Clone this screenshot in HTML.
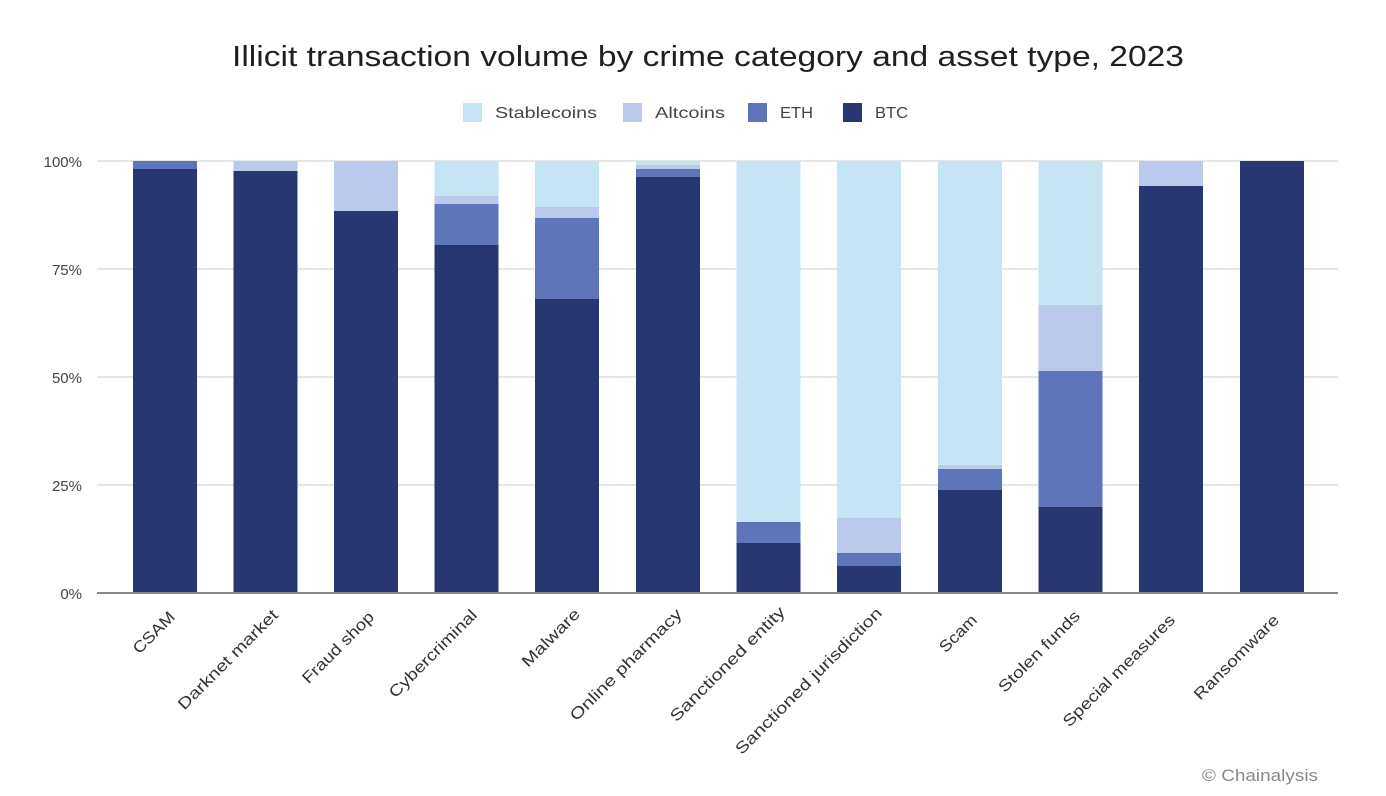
<!DOCTYPE html>
<html><head><meta charset="utf-8"><style>
html,body{margin:0;padding:0;background:#fff;}
svg{display:block;}
</style></head><body>
<svg width="1386" height="796" viewBox="0 0 1386 796" xmlns="http://www.w3.org/2000/svg" font-family="Liberation Sans, sans-serif">
<rect width="1386" height="796" fill="#fff"/>
<text x="232" y="66" font-size="29" fill="#1f1f1f" textLength="952" lengthAdjust="spacingAndGlyphs">Illicit transaction volume by crime category and asset type, 2023</text>

<g font-size="16" fill="#444">
<rect x="463" y="103" width="19" height="19" fill="#c5e5f5"/>
<text x="495" y="118" textLength="102" lengthAdjust="spacingAndGlyphs">Stablecoins</text>
<rect x="623" y="103" width="19" height="19" fill="#bac9ec"/>
<text x="655" y="118" textLength="70" lengthAdjust="spacingAndGlyphs">Altcoins</text>
<rect x="748" y="103" width="19" height="19" fill="#5e76b9"/>
<text x="780" y="118" textLength="33" lengthAdjust="spacingAndGlyphs">ETH</text>
<rect x="843" y="103" width="19" height="19" fill="#283771"/>
<text x="875" y="118" textLength="33" lengthAdjust="spacingAndGlyphs">BTC</text>
</g>

<g stroke="#dddddd" stroke-width="1.5">
<line x1="97" y1="161" x2="1338" y2="161"/>
<line x1="97" y1="269" x2="1338" y2="269"/>
<line x1="97" y1="377" x2="1338" y2="377"/>
<line x1="97" y1="485" x2="1338" y2="485"/>
</g>

<g font-size="15" fill="#444" text-anchor="end">
<text x="82" y="167">100%</text>
<text x="82" y="275">75%</text>
<text x="82" y="383">50%</text>
<text x="82" y="491">25%</text>
<text x="82" y="599">0%</text>
</g>

<g>
<rect x="133" y="161" width="64" height="8" fill="#5e76b9"/>
<rect x="133" y="169" width="64" height="424" fill="#283771"/>
<rect x="233.5" y="161" width="64" height="10" fill="#bac9ec"/>
<rect x="233.5" y="171" width="64" height="422" fill="#283771"/>
<rect x="334" y="161" width="64" height="50" fill="#bac9ec"/>
<rect x="334" y="211" width="64" height="382" fill="#283771"/>
<rect x="434.5" y="161" width="64" height="35" fill="#c5e5f5"/>
<rect x="434.5" y="196" width="64" height="8" fill="#bac9ec"/>
<rect x="434.5" y="204" width="64" height="41" fill="#5e76b9"/>
<rect x="434.5" y="245" width="64" height="348" fill="#283771"/>
<rect x="535" y="161" width="64" height="46" fill="#c5e5f5"/>
<rect x="535" y="207" width="64" height="11" fill="#bac9ec"/>
<rect x="535" y="218" width="64" height="81" fill="#5e76b9"/>
<rect x="535" y="299" width="64" height="294" fill="#283771"/>
<rect x="636" y="161" width="64" height="4" fill="#c5e5f5"/>
<rect x="636" y="165" width="64" height="4" fill="#bac9ec"/>
<rect x="636" y="169" width="64" height="8" fill="#5e76b9"/>
<rect x="636" y="177" width="64" height="416" fill="#283771"/>
<rect x="736.5" y="161" width="64" height="361" fill="#c5e5f5"/>
<rect x="736.5" y="522" width="64" height="21" fill="#5e76b9"/>
<rect x="736.5" y="543" width="64" height="50" fill="#283771"/>
<rect x="837" y="161" width="64" height="357" fill="#c5e5f5"/>
<rect x="837" y="518" width="64" height="35" fill="#bac9ec"/>
<rect x="837" y="553" width="64" height="13" fill="#5e76b9"/>
<rect x="837" y="566" width="64" height="27" fill="#283771"/>
<rect x="938" y="161" width="64" height="304" fill="#c5e5f5"/>
<rect x="938" y="465" width="64" height="4" fill="#bac9ec"/>
<rect x="938" y="469" width="64" height="21" fill="#5e76b9"/>
<rect x="938" y="490" width="64" height="103" fill="#283771"/>
<rect x="1038.5" y="161" width="64" height="144" fill="#c5e5f5"/>
<rect x="1038.5" y="305" width="64" height="66" fill="#bac9ec"/>
<rect x="1038.5" y="371" width="64" height="136" fill="#5e76b9"/>
<rect x="1038.5" y="507" width="64" height="86" fill="#283771"/>
<rect x="1139" y="161" width="64" height="25" fill="#bac9ec"/>
<rect x="1139" y="186" width="64" height="407" fill="#283771"/>
<rect x="1240" y="161" width="64" height="432" fill="#283771"/>
</g>

<line x1="97" y1="593" x2="1338" y2="593" stroke="#8a8a8a" stroke-width="2"/>

<g font-size="16" fill="#333" text-anchor="end">
<text transform="translate(176,618) rotate(-45)" textLength="52" lengthAdjust="spacingAndGlyphs">CSAM</text>
<text transform="translate(279,616) rotate(-45)" textLength="134" lengthAdjust="spacingAndGlyphs">Darknet market</text>
<text transform="translate(375,618) rotate(-45)" textLength="94" lengthAdjust="spacingAndGlyphs">Fraud shop</text>
<text transform="translate(478,616) rotate(-45)" textLength="117" lengthAdjust="spacingAndGlyphs">Cybercriminal</text>
<text transform="translate(581,615) rotate(-45)" textLength="75" lengthAdjust="spacingAndGlyphs">Malware</text>
<text transform="translate(683,615) rotate(-45)" textLength="151" lengthAdjust="spacingAndGlyphs">Online pharmacy</text>
<text transform="translate(786,613) rotate(-45)" textLength="155" lengthAdjust="spacingAndGlyphs">Sanctioned entity</text>
<text transform="translate(883,614) rotate(-45)" textLength="200" lengthAdjust="spacingAndGlyphs">Sanctioned jurisdiction</text>
<text transform="translate(978,621) rotate(-45)" textLength="46" lengthAdjust="spacingAndGlyphs">Scam</text>
<text transform="translate(1081,617) rotate(-45)" textLength="108" lengthAdjust="spacingAndGlyphs">Stolen funds</text>
<text transform="translate(1176,621) rotate(-45)" textLength="151" lengthAdjust="spacingAndGlyphs">Special measures</text>
<text transform="translate(1280,621) rotate(-45)" textLength="113" lengthAdjust="spacingAndGlyphs">Ransomware</text>
</g>

<text x="1202" y="781" font-size="17" fill="#888" textLength="116" lengthAdjust="spacingAndGlyphs">© Chainalysis</text>
</svg>
</body></html>
